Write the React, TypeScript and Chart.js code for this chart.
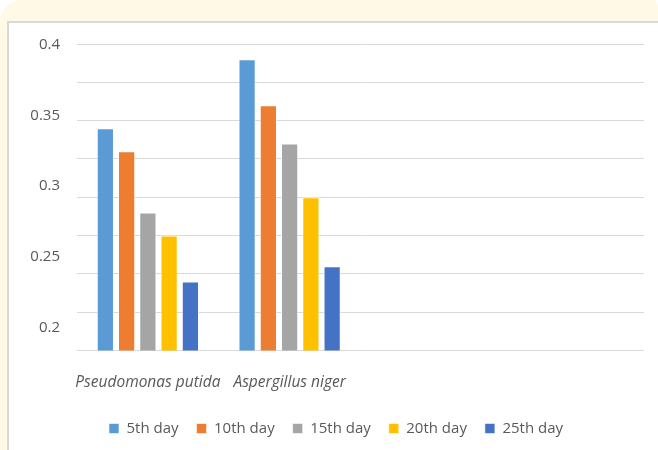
import React, { useEffect, useRef } from "react";
import { Chart, registerables } from "chart.js";

Chart.register(...registerables);

const categories = ["Pseudomonas putida", "Aspergillus niger", "", ""];
const seriesNames = ["5th day", "10th day", "15th day", "20th day", "25th day"];
const day5 = [0.345, 0.39, null, null];
const day10 = [0.33, 0.36, null, null];
const day15 = [0.29, 0.335, null, null];
const day20 = [0.275, 0.3, null, null];
const day25 = [0.245, 0.255, null, null];
const yTickLabels = [0.2, 0.25, 0.3, 0.35, 0.4];
const seriesColors = ["#5B9BD5", "#ED7D31", "#A5A5A5", "#FFC000", "#4472C4"];

export default function App() {
  const ref = useRef<HTMLCanvasElement | null>(null);

  useEffect(() => {
    if (!ref.current) return;
    const values = [day5, day10, day15, day20, day25];
    const chart = new Chart(ref.current, {
      type: "bar",
      data: {
        labels: categories,
        datasets: seriesNames.map((name, i) => ({
          label: name,
          data: values[i],
          backgroundColor: seriesColors[i],
          borderColor: "rgba(255,255,255,0.55)",
          borderWidth: 1,
          categoryPercentage: 0.75,
          barPercentage: 0.81,
          yAxisID: "y",
        })),
      },
      options: {
        responsive: false,
        animation: false,
        layout: { padding: { left: 19, right: 14, top: 21, bottom: 4 } },
        plugins: {
          tooltip: { enabled: false },
          legend: {
            position: "bottom",
            labels: {
              boxWidth: 10,
              boxHeight: 10,
              padding: 18,
              color: "#595959",
              font: { family: "'Open Sans'", size: 15 },
            },
          },
        },
        scales: {
          x: {
            grid: { display: false, drawTicks: false },
            border: { display: false },
            afterFit: (scale: any) => {
              scale.height = scale.height - 12;
            },
            ticks: {
              color: "#595959",
              padding: 23,
              maxRotation: 0,
              autoSkip: false,
              font: { family: "'Open Sans'", size: 15.5, style: "italic" },
            },
          },
          y: {
            position: "left",
            min: 0.2,
            max: 0.4,
            grid: { color: "#D9D9D9", lineWidth: 1, drawTicks: false },
            border: { display: false },
            ticks: { display: false, stepSize: 0.025 },
            afterFit: (scale: any) => {
              scale.width = 0;
            },
          },
          yLabels: {
            position: "left",
            min: 0.1837,
            max: 0.4007,
            grid: { display: false, drawTicks: false },
            border: { display: false },
            afterBuildTicks: (axis: any) => {
              axis.ticks = yTickLabels.map((v) => ({ value: v }));
            },
            afterFit: (scale: any) => {
              scale.width = 49;
              scale.paddingTop = 0;
              scale.paddingBottom = 0;
            },
            ticks: {
              color: "#595959",
              padding: 17,
              font: { family: "'Open Sans'", size: 15 },
              callback: (v: any) => String(Math.round(Number(v) * 100) / 100),
            },
          },
        },
      },
    });
    return () => chart.destroy();
  }, []);

  return (
    <div
      style={{
        position: "fixed",
        left: 0,
        top: 0,
        width: 658,
        height: 450,
        background: "#FFFFFF",
      }}
    >
      <div
        style={{
          position: "absolute",
          left: 0,
          top: 0,
          width: 658,
          height: 450,
          background: "#FFF9E6",
          borderTopLeftRadius: 22,
          borderTopRightRadius: 6,
        }}
      />
      <div
        style={{
          position: "absolute",
          left: 7,
          top: 21,
          width: 651,
          height: 429,
          background: "#FFFFFF",
          borderLeft: "2px solid #D9D9D9",
          borderTop: "2px solid #D9D9D9",
        }}
      >
        <canvas ref={ref} width={649} height={427} style={{ display: "block" }} />
      </div>
    </div>
  );
}
